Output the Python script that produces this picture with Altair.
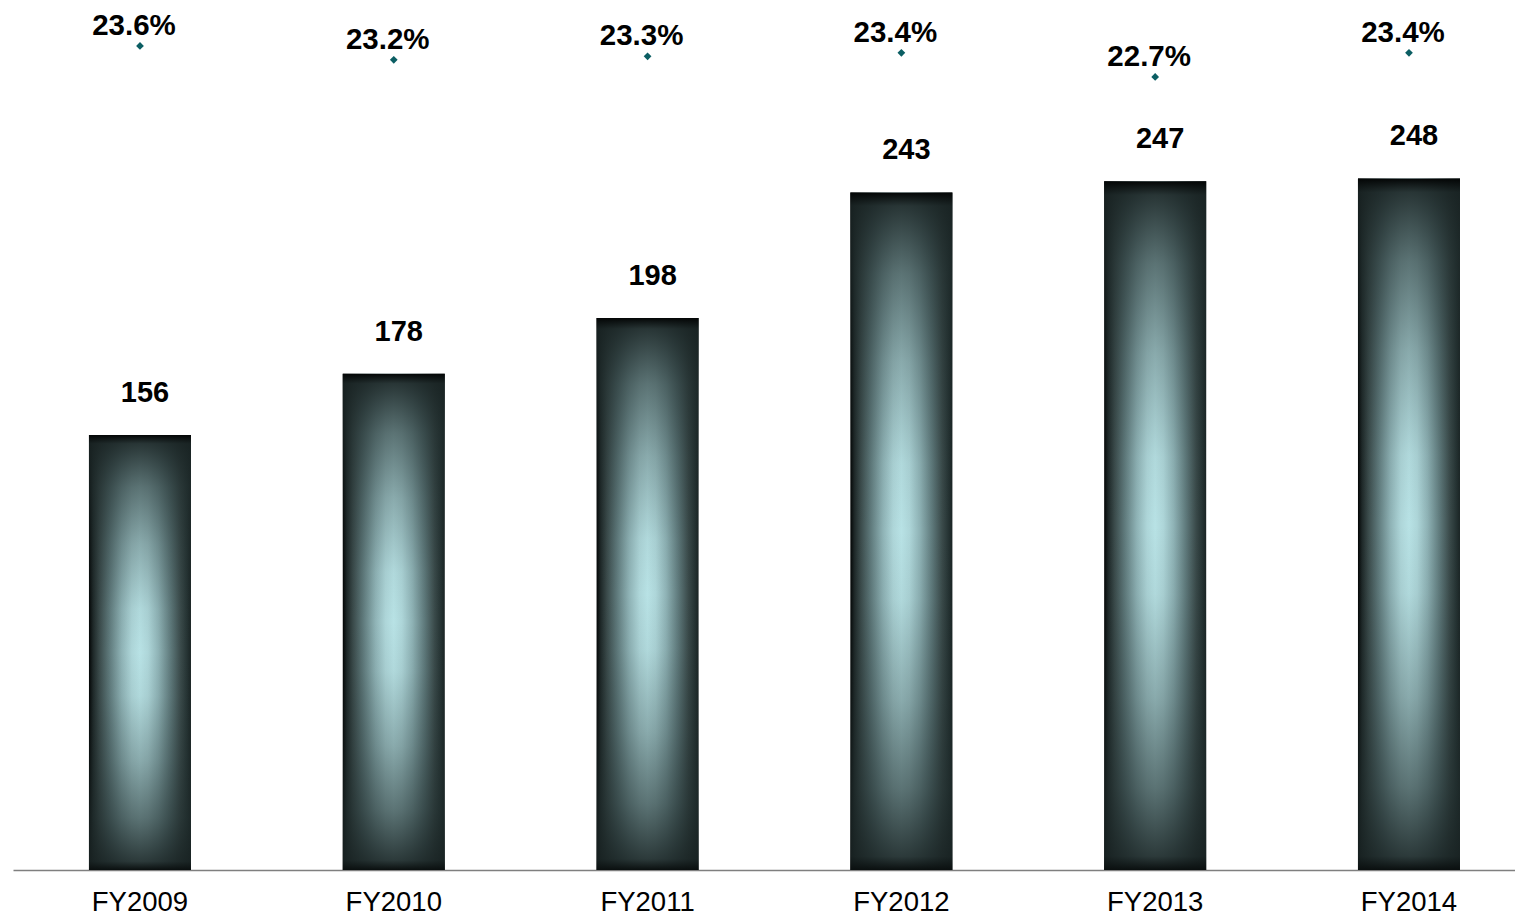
import altair as alt
import pandas as pd

years = ["FY2009", "FY2010", "FY2011", "FY2012", "FY2013", "FY2014"]
values = [156, 178, 198, 243, 247, 248]
margins = [23.6, 23.2, 23.3, 23.4, 22.7, 23.4]
margin_labels = ["23.6%", "23.2%", "23.3%", "23.4%", "22.7%", "23.4%"]

df = pd.DataFrame({"year": years, "value": values, "margin": margins, "mlabel": margin_labels})

FONT = "Liberation Sans"

xenc = alt.X("year:N", sort=years, title=None,
             scale=alt.Scale(paddingInner=0.598, paddingOuter=0.258, align=0.58),
             axis=alt.Axis(labelAngle=0, labelFontSize=27.5, labelFont=FONT, labelColor="#000000",
                           ticks=False, domainColor="#7f7f7f", domainWidth=1.5, labelPadding=18,
                           grid=False))

ybar = alt.Y("value:Q", scale=alt.Scale(domain=[0, 312], nice=False, zero=True), axis=None, title=None)
ypct = alt.Y("margin:Q", scale=alt.Scale(domain=[-0.354, 24.937], nice=False, zero=False), axis=None, title=None)

hgrad = alt.Gradient(
    gradient="linear", x1=0, x2=1, y1=0, y2=0,
    stops=[
        alt.GradientStop(color="#030505", offset=0.0),
        alt.GradientStop(color="#1e2828", offset=0.04),
        alt.GradientStop(color="#3a4a4a", offset=0.1),
        alt.GradientStop(color="#5f7a7c", offset=0.2),
        alt.GradientStop(color="#8fb3b6", offset=0.32),
        alt.GradientStop(color="#aed6d9", offset=0.42),
        alt.GradientStop(color="#b8e2e5", offset=0.5),
        alt.GradientStop(color="#aed6d9", offset=0.58),
        alt.GradientStop(color="#8fb3b6", offset=0.68),
        alt.GradientStop(color="#5f7a7c", offset=0.8),
        alt.GradientStop(color="#3a4a4a", offset=0.9),
        alt.GradientStop(color="#263434", offset=0.96),
        alt.GradientStop(color="#1a2424", offset=1.0),
    ])

vgrad = alt.Gradient(
    gradient="linear", x1=0, x2=0, y1=0, y2=1,
    stops=[
        alt.GradientStop(color="rgba(3,5,5,1)", offset=0.0),
        alt.GradientStop(color="rgba(25,35,35,0.9)", offset=0.02),
        alt.GradientStop(color="rgba(30,42,42,0.6)", offset=0.12),
        alt.GradientStop(color="rgba(30,42,42,0.3)", offset=0.25),
        alt.GradientStop(color="rgba(30,42,42,0.05)", offset=0.4),
        alt.GradientStop(color="rgba(30,42,42,0)", offset=0.5),
        alt.GradientStop(color="rgba(30,42,42,0.05)", offset=0.6),
        alt.GradientStop(color="rgba(30,42,42,0.3)", offset=0.75),
        alt.GradientStop(color="rgba(30,42,42,0.6)", offset=0.88),
        alt.GradientStop(color="rgba(25,35,35,0.88)", offset=0.98),
        alt.GradientStop(color="rgba(10,15,15,1)", offset=1.0),
    ])

base = alt.Chart(df)

bars = base.mark_bar(color=hgrad, strokeWidth=0).encode(x=xenc, y=ybar)
bars_v = base.mark_bar(color=vgrad, strokeWidth=0).encode(x=xenc, y=ybar)
bar_text = base.mark_text(font=FONT, fontSize=29, fontWeight="bold", color="#000000",
                          baseline="middle", dy=-42, dx=5).encode(x=xenc, y=ybar, text="value:Q")

pts = base.mark_point(shape="diamond", filled=True, size=60, color="#0b5e63", opacity=1).encode(x=xenc, y=ypct)
pt_text = base.mark_text(font=FONT, fontSize=29.5, fontWeight="bold", color="#000000",
                         baseline="middle", dy=-20, dx=-6).encode(x=xenc, y=ypct, text="mlabel:N")

left = alt.layer(bars, bars_v, bar_text)
right = alt.layer(pts, pt_text)

chart = alt.layer(left, right).resolve_scale(y="independent").properties(
    width=1502, height=870,
    autosize=alt.AutoSizeParams(type="none"),
    padding={"left": 13, "top": 0, "right": 0, "bottom": 46},
    background="#ffffff",
).configure_view(strokeWidth=0)

chart.save("out.html", embed_options={"renderer": "svg", "actions": False})
